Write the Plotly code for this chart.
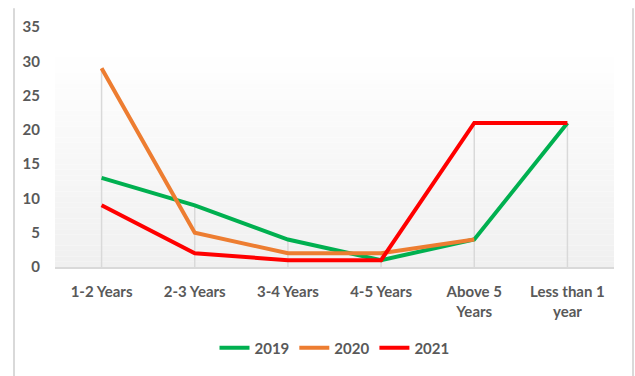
import plotly.graph_objects as go

categories = ["1-2 Years", "2-3 Years", "3-4 Years", "4-5 Years", "Above 5<br>Years", "Less than 1<br>year"]
years = ["2019", "2020", "2021"]
values_2019 = [13, 9, 4, 1, 4, 21]
values_2020 = [29, 5, 2, 2, 4, None]
values_2021 = [9, 2, 1, 1, 21, 21]
colors = ["#00b050", "#ed7d31", "#ff0000"]

series = [values_2019, values_2020, values_2021]

W, H = 635, 376
ML, MR, MT, MB = 55, 21, 27, 106
plot_w = W - ML - MR
plot_h = H - MT - MB

fig = go.Figure()
for name, vals, col in zip(years, series, colors):
    fig.add_trace(go.Scatter(
        x=categories, y=vals, name=name, mode="lines",
        line=dict(color=col, width=4), connectgaps=False,
    ))

shapes = []
# soft vertical gradient behind the plotting area
n_steps = 40
top_frac = 0.9
for i in range(n_steps):
    t = i / n_steps
    shade = int(round(240 + (255 - 240) * t))
    shapes.append(dict(
        type="rect", xref="paper", yref="paper",
        x0=0, x1=1, y0=top_frac * t, y1=top_frac * (i + 1) / n_steps,
        fillcolor=f"rgb({shade},{shade},{shade})", line=dict(width=0), layer="below",
    ))

# drop lines from the highest point of each category to the axis
for i, cat in enumerate(categories):
    peak = max(v[i] for v in series if v[i] is not None)
    shapes.append(dict(
        type="line", xref="x", yref="y", x0=i, x1=i, y0=0, y1=peak,
        line=dict(color="#d9d9d9", width=1.5), layer="below",
    ))

# chart frame edges (pixel positions converted to paper units)
frame_top = (H - MB - 8) / plot_h
frame_bottom = -(MB + 5) / plot_h
for px in (14, 633):
    xpos = (px - ML) / plot_w
    shapes.append(dict(
        type="line", xref="paper", yref="paper", x0=xpos, x1=xpos,
        y0=frame_bottom, y1=frame_top, line=dict(color="#d9d9d9", width=2),
    ))

font = dict(family="Lato, Calibri, sans-serif", size=15, color="#595959", weight="bold")

fig.update_layout(
    width=W, height=H,
    margin=dict(l=ML, r=MR, t=MT, b=MB),
    paper_bgcolor="white", plot_bgcolor="rgba(0,0,0,0)",
    font=font,
    shapes=shapes,
    showlegend=True,
    legend=dict(
        orientation="h", x=0.5, xanchor="center", y=(H - MB - 352) / plot_h, yanchor="middle",
        font=font, itemwidth=30, bgcolor="rgba(0,0,0,0)",
    ),
    xaxis=dict(
        type="category", range=[-0.5, 5.5],
        showgrid=False, zeroline=False,
        showline=True, linecolor="#d9d9d9", linewidth=2,
        ticks="", ticklabelstandoff=10, tickfont=font,
    ),
    yaxis=dict(
        range=[0, 35], dtick=5, showgrid=False, zeroline=False,
        showline=False, ticks="", ticklabelstandoff=14, tickfont=font,
    ),
)

fig.write_html("out.html")
